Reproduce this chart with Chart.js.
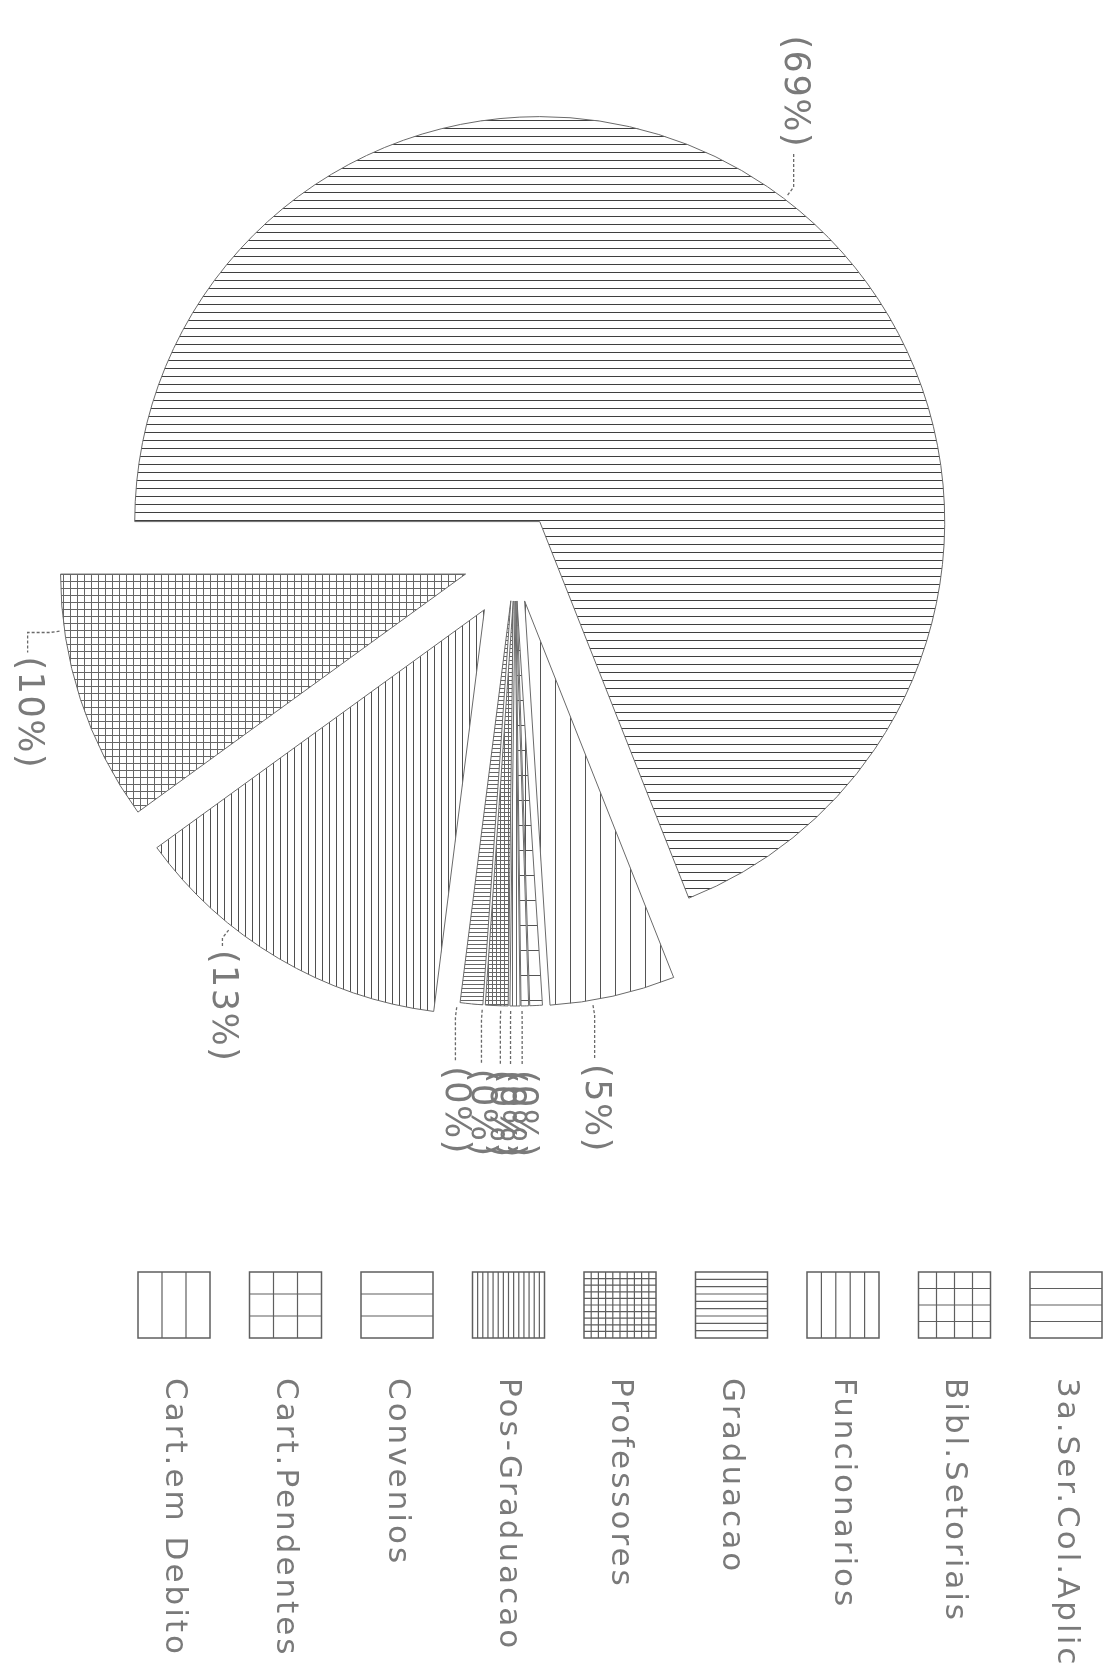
<!DOCTYPE html>
<html>
<head>
<meta charset="utf-8">
<script src="https://cdn.jsdelivr.net/npm/chart.js@4.4.1/dist/chart.umd.min.js"></script>
<style>
  html, body { margin: 0; padding: 0; background: #ffffff; }
  #wrap { position: relative; width: 1118px; height: 1679px; }
  canvas { display: block; }
</style>
</head>
<body>
<div id="wrap"><canvas id="c" width="1118" height="1679"></canvas></div>
<script>
// ---------- data ----------
const categories = ["3a.Ser.Col.Aplic", "Bibl.Setoriais", "Funcionarios", "Graduacao",
                    "Professores", "Pos-Graduacao", "Convenios", "Cart.Pendentes", "Cart.em Debito"];
const shares = [69, 10, 13, 0.9, 0.9, 0.4, 0.3, 0.5, 5];   // percent of total

// ---------- styles ----------
const explodePx = [44, 52, 60, 43, 43, 43, 43, 43, 44];
const labelNudgeDeg = [3, 10, 8, 2, 2, 2, 2, 2, 3];
const leaderLen = [35, 20, 8, 45, 45, 45, 45, 45, 45];
const leaderHook = [0, 22, 0, 0, 0, 0, 0, 0, 0];
const pieHatch = [
  {t: 'h', s: 8, c: '#3f3f3f'}, {t: 'grid', s: 7, c: '#666666'}, {t: 'v', s: 7, c: '#4f4f4f'},
  {t: 'h', s: 4, c: '#666666'}, {t: 'grid', s: 4, c: '#666666'}, {t: 'v', s: 4, c: '#666666'},
  {t: 'h', s: 25, c: '#555555'}, {t: 'grid', s: 25, c: '#555555'}, {t: 'v', s: 15, c: '#555555'}
];
const legendHatch = [
  {t: 'h', n: 4}, {t: 'grid', n: 4}, {t: 'v', n: 5}, {t: 'h', n: 9}, {t: 'grid', n: 10},
  {t: 'v', n: 14}, {t: 'h', n: 3}, {t: 'grid', n: 3}, {t: 'v', n: 3}
];
const TEXT = '#7a7a7a';

const canvas = document.getElementById('c');
const ctx = canvas.getContext('2d');

function makePattern(spec) {
  const s = spec.s;
  const c = document.createElement('canvas');
  c.width = s; c.height = s;
  const g = c.getContext('2d');
  g.fillStyle = '#ffffff'; g.fillRect(0, 0, s, s);
  g.fillStyle = spec.c;
  if (spec.t === 'h' || spec.t === 'grid') g.fillRect(0, 0, s, 1);
  if (spec.t === 'v' || spec.t === 'grid') g.fillRect(0, 0, 1, s);
  return ctx.createPattern(c, 'repeat');
}

// Chart.js draws clockwise; the printed pie runs the other way, so feed it reversed.
const order = categories.map((_, i) => categories.length - 1 - i);
const total = shares.reduce((a, b) => a + b, 0);
const rotationDeg = 180 - (total - shares[0]) / total * 360 + 90;

const explodePlugin = {
  id: 'explode',
  beforeDatasetDraw(chart, args) {
    args.meta.data.forEach((arc, k) => {
      const i = order[k];
      const m = (arc.startAngle + arc.endAngle) / 2;
      arc._ox = arc.x; arc._oy = arc.y;
      arc.x += Math.cos(m) * explodePx[i];
      arc.y += Math.sin(m) * explodePx[i];
    });
  },
  afterDatasetDraw(chart, args) {
    args.meta.data.forEach(arc => { arc.x = arc._ox; arc.y = arc._oy; });
  }
};

function drawRotText(c, text, x, y, align, font, spacing) {
  c.save();
  c.translate(x, y);
  c.rotate(Math.PI / 2);
  c.font = font;
  c.letterSpacing = spacing;
  c.fillStyle = TEXT;
  c.textAlign = align;
  c.textBaseline = 'middle';
  c.fillText(text, 0, 0);
  c.restore();
}

const labelPlugin = {
  id: 'pctLabels',
  afterDatasetsDraw(chart) {
    const c = chart.ctx;
    const meta = chart.getDatasetMeta(0);
    meta.data.forEach((arc, k) => {
      const i = order[k];
      const mid = (arc.startAngle + arc.endAngle) / 2;
      const cx = arc.x + Math.cos(mid) * explodePx[i];
      const cy = arc.y + Math.sin(mid) * explodePx[i];
      const m = mid + labelNudgeDeg[i] * Math.PI / 180;
      const R = arc.outerRadius;
      const ux = Math.cos(m), uy = Math.sin(m);
      const p0 = [cx + (R + 5) * ux, cy + (R + 5) * uy];
      const p1 = [cx + (R + 15) * ux, cy + (R + 15) * uy];
      const p2 = [p1[0] + Math.sign(ux) * leaderHook[i], p1[1]];
      const dir = uy >= 0 ? 1 : -1;
      const p3 = [p2[0], p2[1] + dir * leaderLen[i]];
      c.save();
      c.strokeStyle = '#6a6a6a';
      c.lineWidth = 1.3;
      c.setLineDash([3, 2]);
      c.beginPath();
      c.moveTo(p0[0], p0[1]); c.lineTo(p1[0], p1[1]); c.lineTo(p2[0], p2[1]); c.lineTo(p3[0], p3[1]);
      c.stroke();
      c.restore();
      const pct = Math.floor(shares[i] / total * 100 + 1e-9);
      drawRotText(c, '(' + pct + '%)', p3[0], p3[1] + dir * 4, dir > 0 ? 'left' : 'right',
                  '35px "DejaVu Sans"', '1.5px');
    });
  }
};

const legendPlugin = {
  id: 'printLegend',
  afterDraw(chart) {
    const c = chart.ctx;
    const n = categories.length;
    const boxW = 72, boxH = 66, top = 1272;
    categories.forEach((name, i) => {
      const cx = 174 + (n - 1 - i) * 111.5;
      const x0 = cx - boxW / 2, y0 = top;
      const h = legendHatch[i];
      c.save();
      c.strokeStyle = '#5f5f5f';
      c.lineWidth = 1.2;
      c.beginPath();
      if (h.t === 'h' || h.t === 'grid') {
        for (let k = 1; k < h.n; k++) {
          const y = y0 + boxH * k / h.n;
          c.moveTo(x0, y); c.lineTo(x0 + boxW, y);
        }
      }
      if (h.t === 'v' || h.t === 'grid') {
        for (let k = 1; k < h.n; k++) {
          const x = x0 + boxW * k / h.n;
          c.moveTo(x, y0); c.lineTo(x, y0 + boxH);
        }
      }
      c.stroke();
      c.lineWidth = 1.5;
      c.strokeRect(x0, y0, boxW, boxH);
      c.restore();
      drawRotText(c, name, cx, 1378, 'left', '31px "DejaVu Sans"', '3px');
    });
  }
};

new Chart(canvas, {
  type: 'pie',
  data: {
    labels: order.map(i => categories[i]),
    datasets: [{
      data: order.map(i => shares[i]),
      backgroundColor: order.map(i => makePattern(pieHatch[i])),
      borderColor: '#6a6a6a',
      borderWidth: 1
    }]
  },
  options: {
    responsive: false,
    animation: false,
    devicePixelRatio: 1,
    rotation: rotationDeg,
    radius: 405,
    layout: { padding: { left: 0, right: 88, top: 0, bottom: 563 } },
    plugins: { legend: { display: false }, tooltip: { enabled: false }, title: { display: false } },
    events: []
  },
  plugins: [explodePlugin, labelPlugin, legendPlugin]
});
</script>
</body>
</html>
